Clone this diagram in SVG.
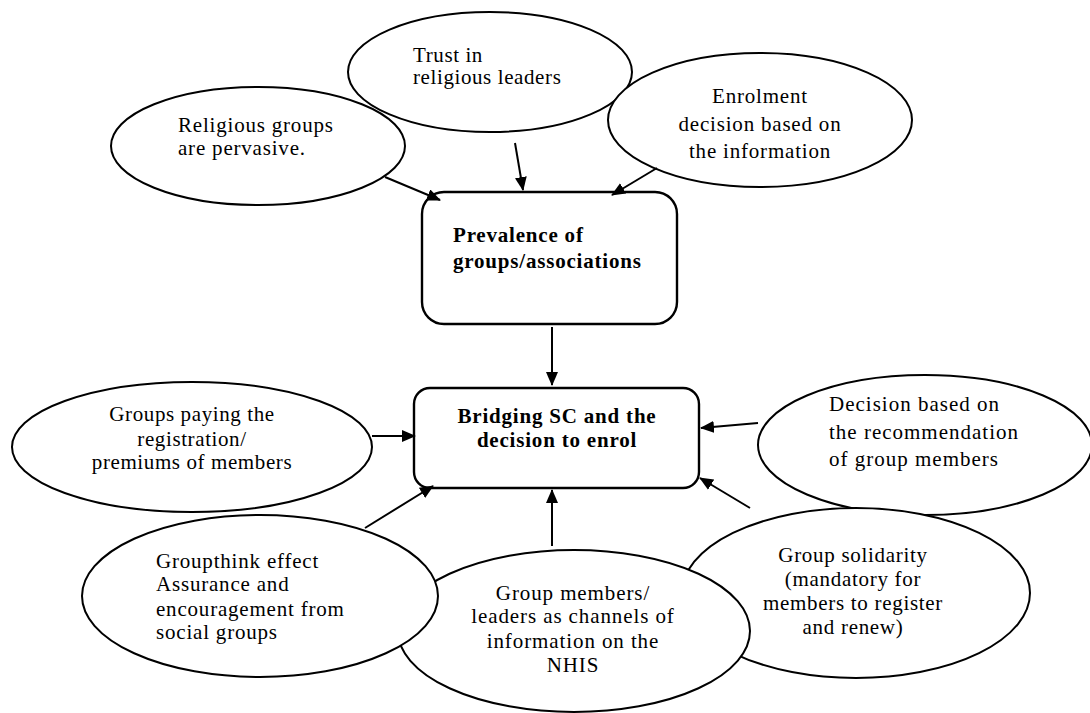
<svg xmlns="http://www.w3.org/2000/svg" width="1090" height="713" viewBox="0 0 1090 713">
  <style>
    .node { fill: #ffffff; stroke: #000000; stroke-width: 2; }
    .box { fill: #ffffff; stroke: #000000; stroke-width: 2.4; }
    .txt { font-family: "Liberation Serif", "Times New Roman", serif; font-size: 21px; fill: #000000; letter-spacing: 0.7px; }
    .bold { font-family: "Liberation Serif", "Times New Roman", serif; font-size: 21px; font-weight: bold; fill: #000000; letter-spacing: 0.8px; }
    .mid { text-anchor: middle; }
    .ls6 { letter-spacing: 0.6px; }
    .ls8 { letter-spacing: 0.8px; }
    .ls9 { letter-spacing: 0.9px; }
    .ls10 { letter-spacing: 1px; }
    .conn { stroke: #000000; stroke-width: 2; fill: none; marker-end: url(#arrow); }
  </style>
  <defs>
    <marker id="arrow" markerWidth="14" markerHeight="12" refX="13" refY="6" orient="auto" markerUnits="userSpaceOnUse">
      <path d="M0,0 L14,6 L0,12 Z" fill="#000000"/>
    </marker>
  </defs>

  <rect width="1090" height="713" fill="#ffffff"/>

  <!-- upper cluster -->
  <g id="religious-groups">
    <ellipse class="node" cx="258" cy="146" rx="147" ry="59"/>
    <text class="txt ls8" x="178" y="132">Religious groups</text>
    <text class="txt ls8" x="178" y="155">are pervasive.</text>
  </g>
  <g id="trust-leaders">
    <ellipse class="node" cx="490" cy="72" rx="142" ry="60"/>
    <text class="txt ls6" x="413" y="62">Trust in</text>
    <text class="txt ls6" x="413" y="84">religious leaders</text>
  </g>
  <g id="enrolment-decision">
    <ellipse class="node" cx="760" cy="120" rx="152" ry="67"/>
    <text class="txt mid ls8" x="760" y="103">Enrolment</text>
    <text class="txt mid ls8" x="760" y="131">decision based on</text>
    <text class="txt mid ls8" x="760" y="158">the information</text>
  </g>
  <g id="prevalence">
    <rect class="box" x="422" y="192" width="255" height="132" rx="22" ry="22"/>
    <text class="bold" x="453" y="242">Prevalence of</text>
    <text class="bold" x="453" y="268">groups/associations</text>
  </g>

  <!-- central node -->
  <g id="bridging-sc">
    <rect class="box" x="414" y="388" width="285" height="100" rx="16" ry="16"/>
    <text class="bold mid" x="557" y="423">Bridging SC and the</text>
    <text class="bold mid" x="557" y="447">decision to enrol</text>
  </g>

  <!-- lower cluster -->
  <g id="recommendation">
    <ellipse class="node" cx="925" cy="445" rx="167" ry="70"/>
    <text class="txt ls10" x="829" y="411">Decision based on</text>
    <text class="txt ls10" x="829" y="439">the recommendation</text>
    <text class="txt ls10" x="829" y="466">of group members</text>
  </g>
  <g id="solidarity">
    <ellipse class="node" cx="856" cy="593" rx="174" ry="85"/>
    <text class="txt mid" x="853" y="562">Group solidarity</text>
    <text class="txt mid" x="853" y="586">(mandatory for</text>
    <text class="txt mid" x="853" y="610">members to register</text>
    <text class="txt mid" x="853" y="634">and renew)</text>
  </g>
  <g id="channels">
    <ellipse class="node" cx="574" cy="631" rx="176" ry="81"/>
    <text class="txt mid ls9" x="573" y="600">Group members/</text>
    <text class="txt mid ls9" x="573" y="623">leaders as channels of</text>
    <text class="txt mid ls9" x="573" y="648">information on the</text>
    <text class="txt mid ls9" x="573" y="672">NHIS</text>
  </g>
  <g id="groupthink">
    <ellipse class="node" cx="260" cy="596" rx="178" ry="81"/>
    <text class="txt ls8" x="156" y="568">Groupthink effect</text>
    <text class="txt ls8" x="156" y="591">Assurance and</text>
    <text class="txt ls8" x="156" y="616">encouragement from</text>
    <text class="txt ls8" x="156" y="639">social groups</text>
  </g>
  <g id="groups-paying">
    <ellipse class="node" cx="192" cy="447" rx="180" ry="65"/>
    <text class="txt mid ls6" x="192" y="421">Groups paying the</text>
    <text class="txt mid ls6" x="192" y="446">registration/</text>
    <text class="txt mid ls6" x="192" y="469">premiums of members</text>
  </g>

  <g id="connectors">
    <line class="conn" x1="385" y1="177" x2="440" y2="200"/>
    <line class="conn" x1="515" y1="143" x2="523" y2="190"/>
    <line class="conn" x1="657" y1="168" x2="612" y2="195"/>
    <line class="conn" x1="552" y1="327" x2="552" y2="385"/>
    <line class="conn" x1="372" y1="436" x2="415" y2="436"/>
    <line class="conn" x1="365" y1="528" x2="433" y2="486"/>
    <line class="conn" x1="552" y1="546" x2="552" y2="490"/>
    <line class="conn" x1="758" y1="423" x2="701" y2="428"/>
    <line class="conn" x1="750" y1="508" x2="700" y2="478"/>
  </g>
</svg>
